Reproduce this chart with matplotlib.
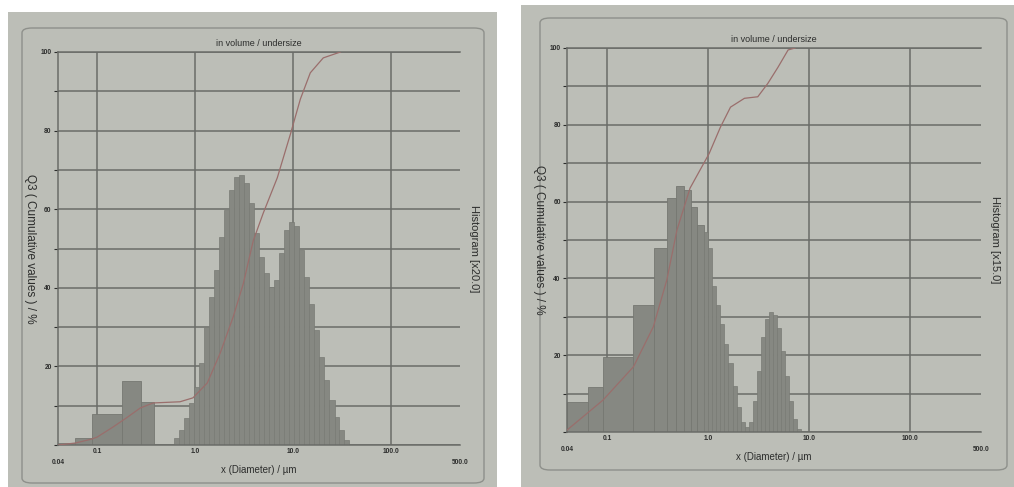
import numpy as np
import matplotlib
matplotlib.use('Agg')
import matplotlib.pyplot as plt
from matplotlib.patches import Rectangle, FancyBboxPatch

plt.rcParams['font.family'] = ['Liberation Sans', 'DejaVu Sans']

# ---- left chart (Histogram x20) ----
left_coarse_edges = [0.04, 0.06, 0.088, 0.18, 0.28, 0.38]
left_coarse_vals = [0.6, 1.7, 7.8, 16.4, 11.0]
left_fine_d = [0.650, 0.731, 0.822, 0.925, 1.04, 1.17, 1.32, 1.48, 1.66, 1.87,
               2.10, 2.37, 2.66, 2.99, 3.37, 3.78, 4.26, 4.79, 5.38, 6.05,
               6.81, 7.66, 8.61, 9.68, 10.9, 12.2, 13.8, 15.5, 17.4, 19.6,
               22.0, 24.8, 27.9, 31.3, 35.2]
left_fine_vals = [1.7, 3.8, 6.8, 10.6, 14.8, 20.8, 30.1, 37.7, 44.5, 53.0,
                  59.8, 64.9, 68.3, 68.7, 66.6, 61.5, 53.9, 47.9, 43.7, 40.3,
                  42.0, 48.8, 54.7, 56.8, 55.6, 49.6, 42.8, 36.0, 29.3, 22.5,
                  16.5, 11.5, 7.2, 3.8, 1.3]
left_cum_d = [0.04, 0.06, 0.088, 0.1, 0.146, 0.202, 0.275, 0.373, 0.70, 0.95,
              1.33, 1.80, 2.44, 3.09, 3.91, 4.94, 6.87, 9.32, 11.8, 14.9,
              20.2, 30.2]
left_cum_vals = [0, 0.5, 1.5, 2, 4.6, 7, 9.4, 10.7, 11, 12,
                 15.8, 23.4, 32.6, 41, 52, 59, 68, 79, 88, 94.7,
                 98.5, 100]

# ---- right chart (Histogram x15) ----
right_coarse_edges = [0.04, 0.064, 0.09, 0.18, 0.29, 0.39, 0.48, 0.58, 0.68, 0.78, 0.91]
right_coarse_vals = [7.9, 11.8, 19.6, 33.0, 47.8, 60.9, 64.0, 63.0, 58.7, 54.0]
right_fine_d = [0.955, 1.047, 1.148, 1.259, 1.380, 1.514, 1.660, 1.820, 1.995, 2.188,
                2.399, 2.630, 2.884, 3.162, 3.467, 3.802, 4.169, 4.571, 5.012, 5.495,
                6.026, 6.607, 7.244, 7.943]
right_fine_vals = [52, 48, 38, 33, 28, 23, 18, 12, 6.5, 2.7,
                   1.4, 2.5, 8, 16, 24.8, 29.5, 31.3, 30.5, 27, 21,
                   14.5, 8, 3.5, 0.8]
right_cum_d = [0.04, 0.0908, 0.182, 0.286, 0.389, 0.49, 0.66, 1.02, 1.32, 1.66,
               2.28, 3.09, 3.89, 4.90, 6.17, 7.24]
right_cum_vals = [0.5, 8.3, 17, 27.4, 39.6, 52.6, 63.5, 72.5, 79.4, 84.6,
                  86.9, 87.3, 90.8, 95, 99.5, 100]

paper = '#bcbeb7'
bar_col = '#868882'
grid_col = '#6a6c68'
curve_col = '#9a6e6c'
text_col = '#2c2d2c'


def fine_edges(d):
    d = np.asarray(d)
    mids = np.sqrt(d[:-1] * d[1:])
    return np.concatenate([[d[0] ** 2 / mids[0]], mids, [d[-1] ** 2 / mids[-1]]])


def draw_panel(ax, coarse_edges, coarse_vals, fine_d, fine_vals, cum_d, cum_vals, hist_label):
    ax.set_facecolor(paper)
    ax.set_xscale('log')
    ax.set_xlim(0.04, 500)
    ax.set_ylim(0, 100)

    ce = np.asarray(coarse_edges)
    ax.bar(ce[:-1], coarse_vals, width=np.diff(ce), align='edge',
           color=bar_col, edgecolor='#767872', linewidth=0.6, zorder=2)
    fe = fine_edges(fine_d)
    ax.bar(fe[:-1], fine_vals, width=np.diff(fe), align='edge',
           color=bar_col, edgecolor='#797b75', linewidth=0.5, zorder=2)
    ax.plot(cum_d, cum_vals, color=curve_col, lw=0.9, zorder=4)

    ax.set_yticks(range(0, 101, 10))
    ax.set_yticklabels(['' if v % 20 or v == 0 else str(v) for v in range(0, 101, 10)])
    ax.set_xticks([0.1, 1, 10, 100])
    ax.set_xticklabels(['0.1', '1.0', '10.0', '100.0'])
    ax.minorticks_off()
    ax.tick_params(axis='both', labelsize=4.8, colors=text_col, length=3, width=0.8, pad=1.5)
    ax.tick_params(axis='x', length=0, pad=2.5)
    for lab in ax.get_xticklabels() + ax.get_yticklabels():
        lab.set_fontweight('bold')
    ax.grid(True, color=grid_col, lw=1.1, zorder=1)
    ax.set_axisbelow(True)
    for s in ['left', 'bottom', 'top']:
        ax.spines[s].set_color(grid_col)
        ax.spines[s].set_linewidth(1.1)
    ax.spines['right'].set_visible(False)

    xt = ax.get_xaxis_transform()
    ax.text(0.04, -0.045, '0.04', transform=xt, ha='center', va='center',
            fontsize=4.8, color=text_col, fontweight='bold')
    ax.text(500, -0.045, '500.0', transform=xt, ha='center', va='center',
            fontsize=4.8, color=text_col, fontweight='bold')

    ax.set_title('in volume / undersize', fontsize=6.5, color=text_col, pad=4)
    ax.set_xlabel('x (Diameter) / µm', fontsize=7, color=text_col, labelpad=7)
    ax.set_ylabel('Q3 ( Cumulative values ) / %', fontsize=8.5, color=text_col,
                  rotation=270, labelpad=12, va='bottom')
    ax.text(1.035, 0.5, hist_label, transform=ax.transAxes, rotation=270,
            ha='center', va='center', fontsize=8, color=text_col)


fig = plt.figure(figsize=(10.14, 4.87), dpi=100)
fig.patch.set_facecolor('white')

W, H = 1014, 487
# photo backgrounds and printed chart frames, kept behind the axes
bg = [
    Rectangle((8 / W, 0), 489 / W, 475 / H, facecolor=paper, edgecolor='none'),
    Rectangle((521 / W, 0), 493 / W, 482 / H, facecolor=paper, edgecolor='none'),
    FancyBboxPatch((22 / W, 4 / H), 462 / W, 455 / H, boxstyle='round,pad=0,rounding_size=0.01',
                   facecolor='none', edgecolor='#8e908b', lw=1.0),
    FancyBboxPatch((540 / W, 17 / H), 467 / W, 452 / H, boxstyle='round,pad=0,rounding_size=0.01',
                   facecolor='none', edgecolor='#8e908b', lw=1.0),
]
for p in bg:
    p.set_transform(fig.transFigure)
    p.set_zorder(-5)
    fig.patches.append(p)

ax1 = fig.add_axes([58 / W, (H - 445) / H, 402 / W, 393 / H])
draw_panel(ax1, left_coarse_edges, left_coarse_vals, left_fine_d, left_fine_vals,
           left_cum_d, left_cum_vals, 'Histogram [x20.0]')

ax2 = fig.add_axes([567 / W, (H - 432) / H, 414 / W, 384 / H])
draw_panel(ax2, right_coarse_edges, right_coarse_vals, right_fine_d, right_fine_vals,
           right_cum_d, right_cum_vals, 'Histogram [x15.0]')

fig.savefig('out.png', dpi=100)
